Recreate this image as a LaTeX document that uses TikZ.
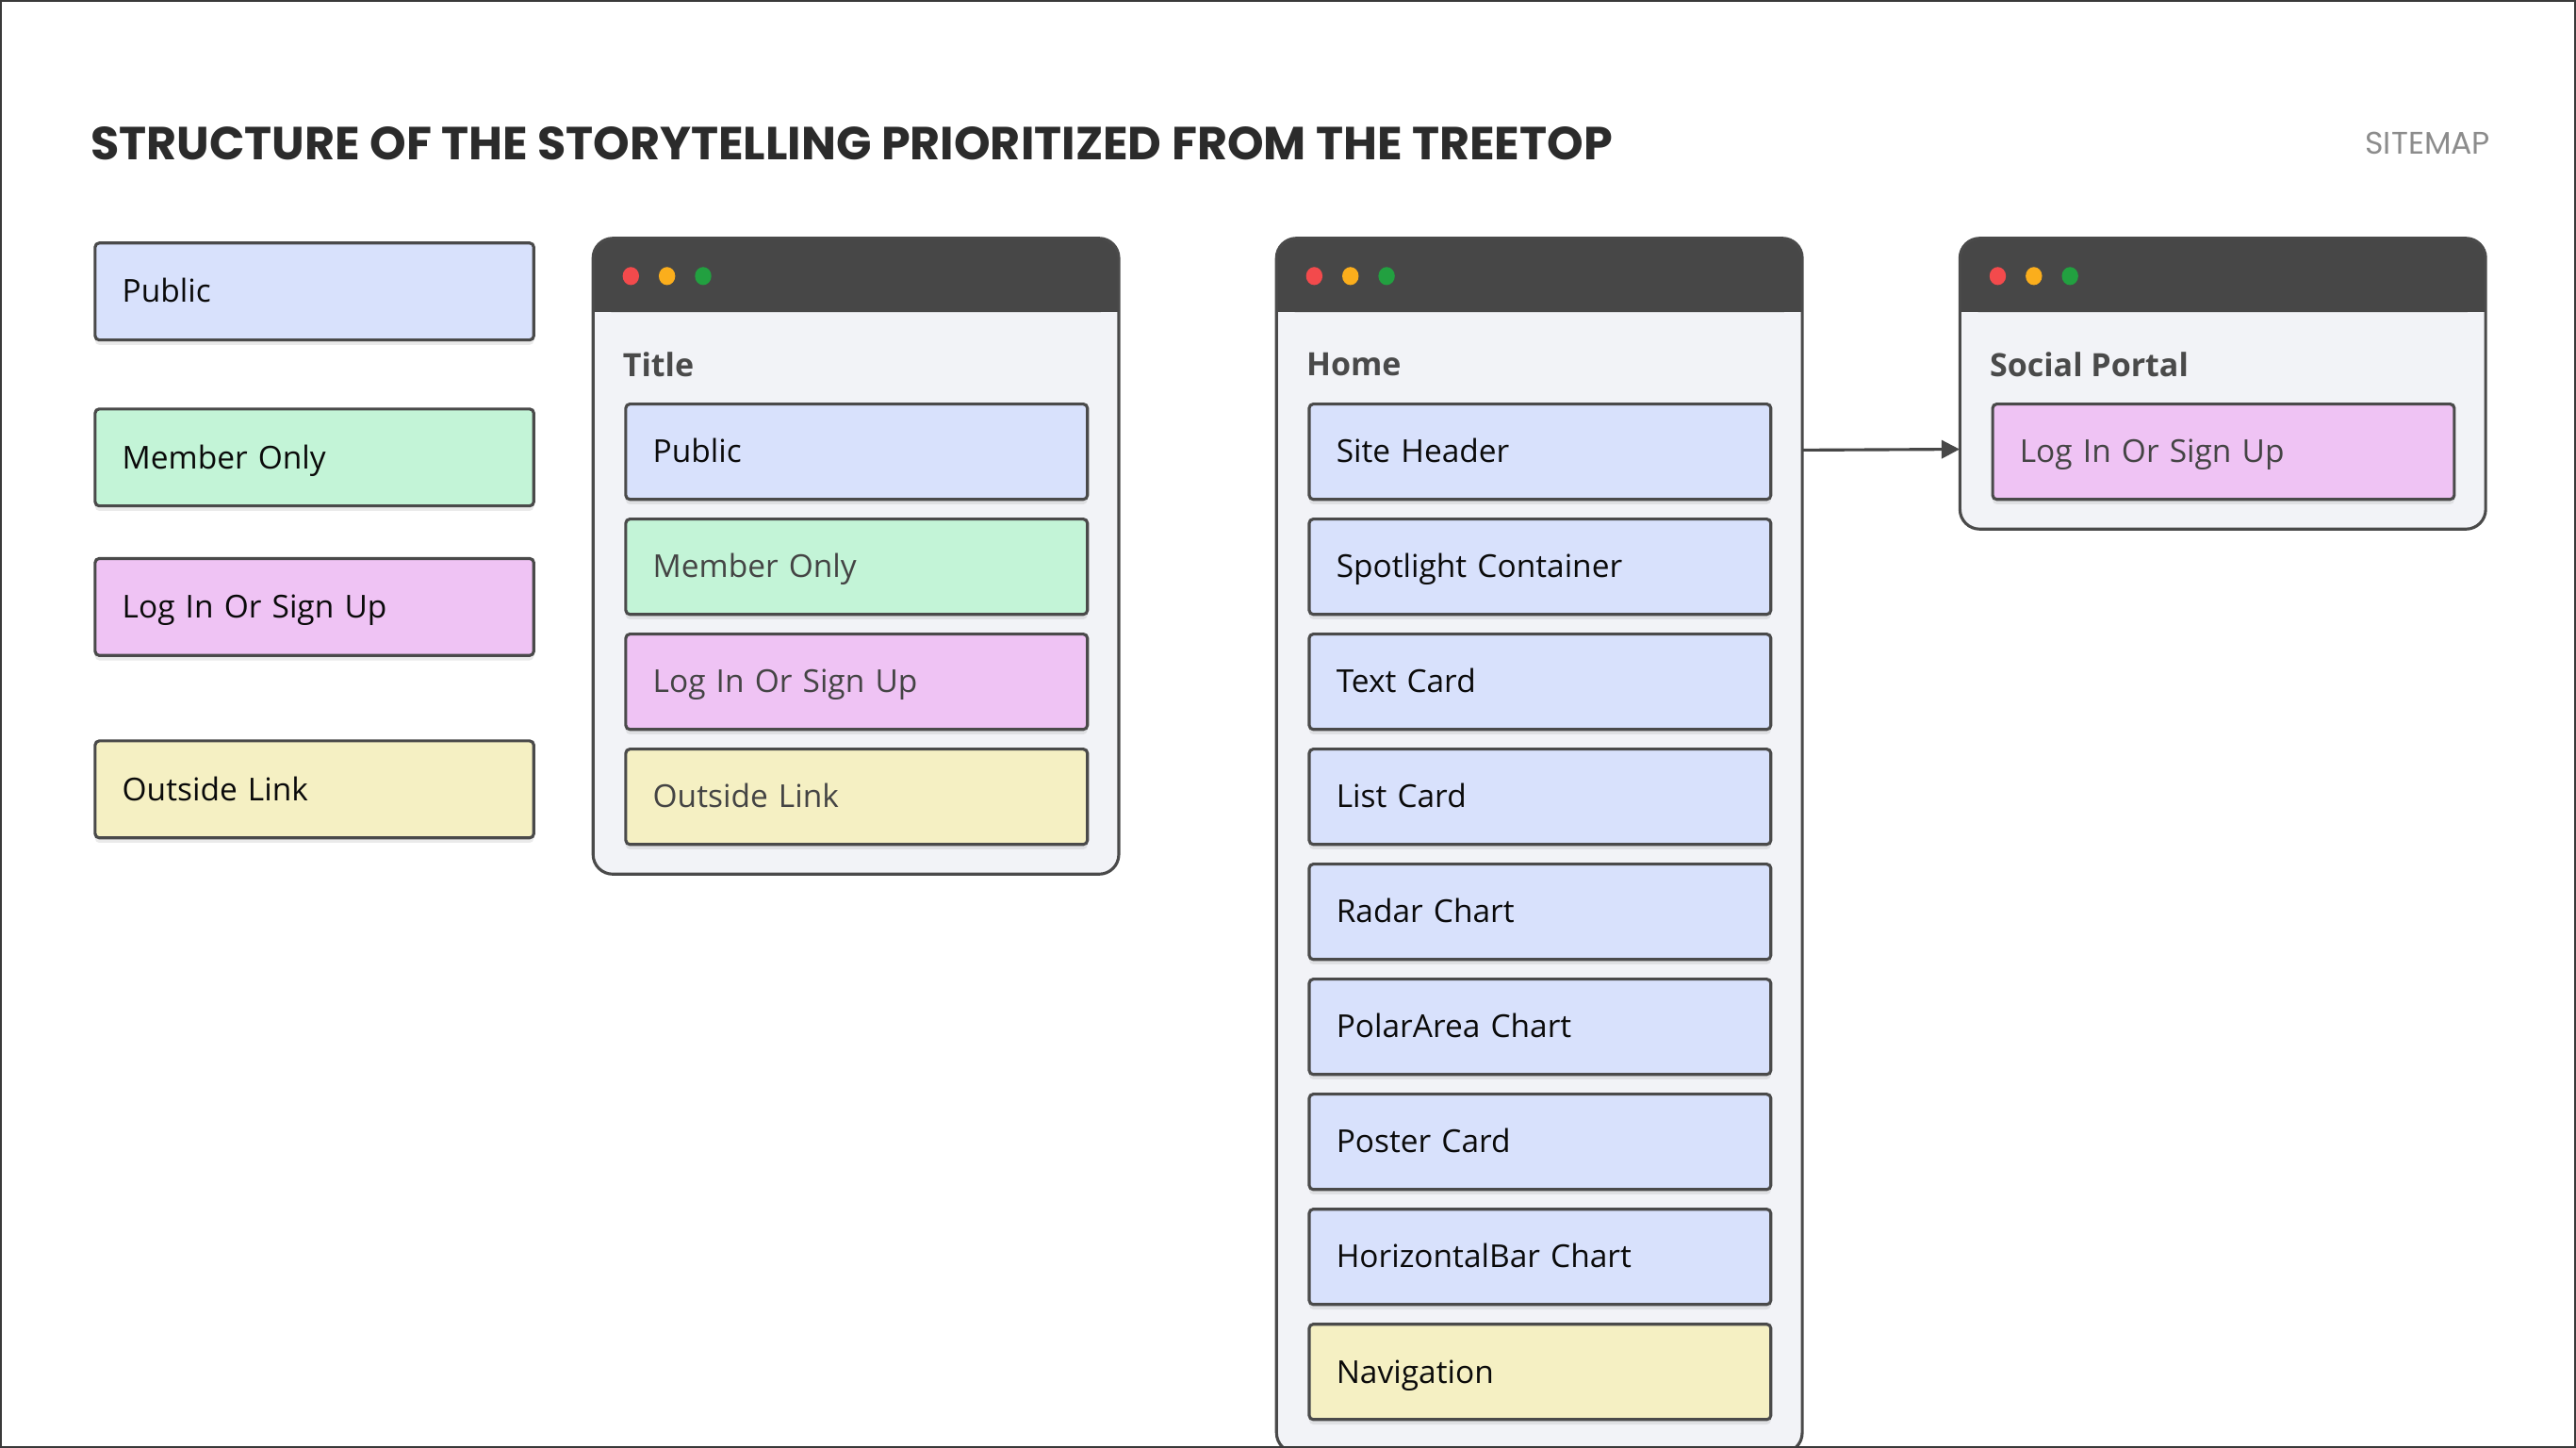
\documentclass[tikz,border=0pt]{standalone}
\usepackage{fontspec}
\setmainfont{Open Sans}
\newfontfamily\poppins{Poppins}
\usetikzlibrary{arrows.meta,shadows,fit}
\definecolor{edge}{HTML}{4A4A4A}
\definecolor{hdr}{HTML}{474747}
\definecolor{body}{HTML}{F2F3F7}
\definecolor{cblue}{HTML}{D8E1FC}
\definecolor{cgreen}{HTML}{C3F4D7}
\definecolor{cpink}{HTML}{EFC3F4}
\definecolor{cyellow}{HTML}{F5F0C3}
\definecolor{dred}{HTML}{F34A4C}
\definecolor{dorange}{HTML}{FBAE1C}
\definecolor{dgreen}{HTML}{22A040}
\definecolor{titlecol}{HTML}{2B2B2B}
\definecolor{framecol}{HTML}{3A3A3A}
\definecolor{txtdark}{HTML}{0A0A0A}
\definecolor{txtgray}{HTML}{444444}
\definecolor{sitemapcol}{HTML}{8C8C8C}
\tikzset{
  box/.style={draw=edge, line width=1.8pt, rounded corners=2.5pt,
    minimum height=58pt, anchor=north west, inner xsep=16.5pt, inner ysep=0pt,
    text width=248pt, align=left, font=\fontsize{19.2}{23}\selectfont,
    text height=16.5pt, text depth=3pt, text=txtdark,
    drop shadow={shadow xshift=0pt, shadow yshift=-3pt, opacity=0.16}},
  legend/.style={box, text width=234pt, minimum height=59pt},
  grey/.style={text=txtgray},
  winbody/.style={inner sep=0pt, fill=body, rounded corners=12pt},
  winedge/.style={draw=edge, line width=1.8pt},
  winlabel/.style={anchor=west, inner sep=0pt, text=edge,
    font=\bfseries\fontsize{19.5}{23}\selectfont},
  conn/.style={draw=hdr, line width=1.8pt, -{Triangle[length=11pt,width=11pt]}},
}
\newcommand\mkwin[5]{%
  \node[winbody, fit={(#2,#3) (#2+320,#4)}] (#1) {};
  \fill[hdr, rounded corners=12pt] (#2,#3) rectangle (#2+320,#3+45);
  \fill[hdr] (#2,#3+20) rectangle (#2+320,#3+45);
  \draw[winedge, rounded corners=12pt] (#2,#3) rectangle (#2+320,#4);
  \fill[dred] (#2+23,#3+23) circle[x radius=5, y radius=5.5];
  \fill[dorange] (#2+45,#3+23) circle[x radius=5, y radius=5.5];
  \fill[dgreen] (#2+67,#3+23) circle[x radius=5, y radius=5.5];
  \node[winlabel] (#1-label) at (#2+18,#3+77) {#5};
}
\begin{document}
\begin{tikzpicture}[x=1pt,y=-1pt]
  \useasboundingbox (0,0) rectangle (1568,881);
  \fill[white] (0,0) rectangle (1568,881);

  % title
  \node[anchor=base west, inner sep=0pt, text=titlecol,
        font=\poppins\bfseries\fontsize{28.2}{32}\selectfont] (title) at (55,97)
        {STRUCTURE OF THE STORYTELLING PRIORITIZED FROM THE TREETOP};
  \node[anchor=base east, inner sep=0pt, text=sitemapcol,
        font=\poppins\fontsize{19}{22}\selectfont] (sitemap) at (1516,94) {SITEMAP};

  % legend
  \node[legend, fill=cblue] (lg1) at (57,147) {Public};
  \node[legend, fill=cgreen] (lg2) at (57,248) {Member Only};
  \node[legend, fill=cpink] (lg3) at (57,339) {Log In Or Sign Up};
  \node[legend, fill=cyellow] (lg4) at (57,450) {Outside Link};

  % Title window
  \mkwin{titlewin}{361}{145}{532}{Title}
  \node[box, fill=cblue] (t1) at (380,245) {Public};
  \node[box, fill=cgreen, grey] (t2) at (380,315) {Member Only};
  \node[box, fill=cpink, grey] (t3) at (380,385) {Log In Or Sign Up};
  \node[box, fill=cyellow, grey] (t4) at (380,455) {Outside Link};

  % Home window
  \mkwin{homewin}{777}{145}{884}{Home}
  \node[box, fill=cblue] (h1) at (796,245) {Site Header};
  \node[box, fill=cblue] (h2) at (796,315) {Spotlight Container};
  \node[box, fill=cblue] (h3) at (796,385) {Text Card};
  \node[box, fill=cblue] (h4) at (796,455) {List Card};
  \node[box, fill=cblue] (h5) at (796,525) {Radar Chart};
  \node[box, fill=cblue] (h6) at (796,595) {PolarArea Chart};
  \node[box, fill=cblue] (h7) at (796,665) {Poster Card};
  \node[box, fill=cblue] (h8) at (796,735) {HorizontalBar Chart};
  \node[box, fill=cyellow] (h9) at (796,805) {Navigation};

  % Social Portal window
  \mkwin{socialwin}{1193}{145}{322}{Social Portal}
  \node[box, fill=cpink, grey] (s1) at (1212,245) {Log In Or Sign Up};

  % connector
  \draw[conn] ([yshift=1pt]homewin.east |- h1.east) -- ([yshift=1.5pt]socialwin.west |- s1.west);

  % frame
  \draw[framecol, line width=2pt] (0,0) rectangle (1568,881);
\end{tikzpicture}
\end{document}
